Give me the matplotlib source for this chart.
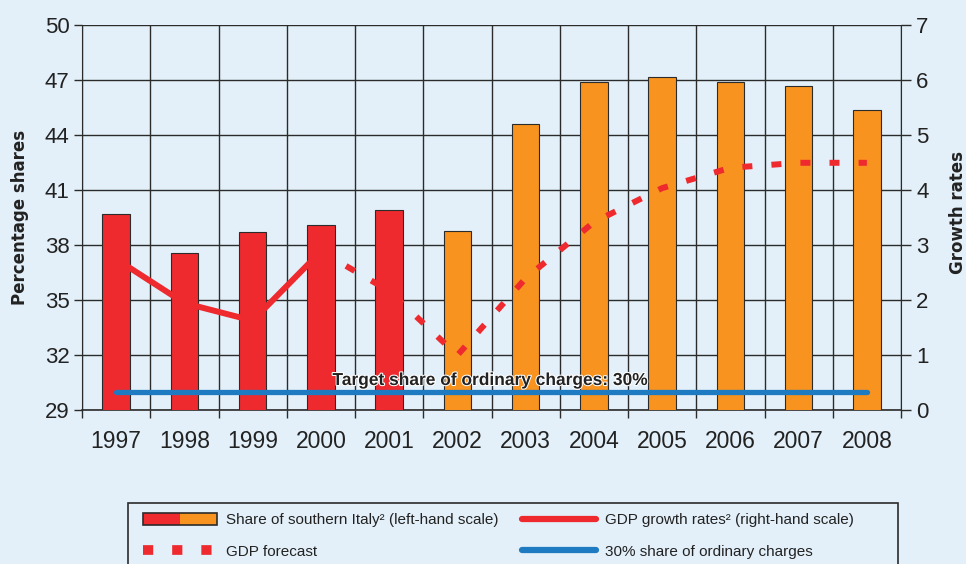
import matplotlib
matplotlib.use('Agg')
import matplotlib.pyplot as plt
import matplotlib.patheffects as pe
from matplotlib.patches import Rectangle
from matplotlib.lines import Line2D
from matplotlib.legend_handler import HandlerBase
import numpy as np

# data
years = [1997, 1998, 1999, 2000, 2001, 2002, 2003, 2004, 2005, 2006, 2007, 2008]
south_share = [39.7, 37.6, 38.7, 39.1, 39.9, 38.8, 44.6, 46.9, 47.2, 46.9, 46.7, 45.4]
last_actual = 2001  # bars up to here are red, later ones orange

gdp_years = [1997, 1998, 1999, 2000]
gdp_growth = [2.75, 1.95, 1.63, 2.89]

forecast_years = [2000, 2001, 2002, 2003, 2004, 2005, 2006, 2007, 2008]
gdp_forecast = [2.89, 2.17, 1.0, 2.4, 3.42, 4.04, 4.41, 4.5, 4.5]

target_share = 30

# colours
bg = '#e3f0f9'
red = '#ee2a2f'
orange = '#f7931e'
blue = '#1f7bc1'
dark = '#2b2b2b'

tick_font = ['Liberation Sans', 'DejaVu Sans']

fig = plt.figure(figsize=(9.66, 5.64), dpi=100, facecolor=bg)
ax = fig.add_axes([82 / 966, 1 - 410.3 / 564, (901 - 82) / 966, (410.3 - 25.3) / 564])
ax.set_facecolor(bg)
ax2 = ax.twinx()

x = np.arange(len(years))
bar_colors = [red if y <= last_actual else orange for y in years]
ax.bar(x, south_share, width=0.405, bottom=0, color=bar_colors,
       edgecolor=dark, linewidth=0.8, zorder=3)

# 30% target line on the left scale
ax.plot([x[0], x[-1]], [target_share, target_share], color=blue, lw=3.8,
        solid_capstyle='round', zorder=4)
txt = ax.text((x[0] + x[-1]) / 2 - 0.015, target_share + 0.38,
              'Target share of ordinary charges: 30%', ha='center', va='baseline',
              fontsize=12.5, fontweight='bold', family=tick_font, color='#222222',
              zorder=5)
txt.set_path_effects([pe.withStroke(linewidth=1.5, foreground='white')])

# growth rates on the right scale
gx = np.array(gdp_years) - years[0]
fx = np.array(forecast_years) - years[0]
ax2.plot(gx, gdp_growth, color=red, lw=4.3, solid_capstyle='butt')
ax2.plot(fx, gdp_forecast, color=red, lw=4.3, dashes=(1.67, 3.2))

ax.set_xlim(-0.5, len(years) - 0.5)
ax.set_ylim(29, 50)
ax.set_yticks(np.arange(29, 51, 3))
ax2.set_ylim(0, 7)
ax2.set_yticks(np.arange(0, 8, 1))

# ticks on category boundaries, labels on centres
ax.set_xticks(np.arange(-0.5, len(years), 1))
ax.set_xticklabels([])
ax.set_xticks(x, minor=True)
ax.set_xticklabels([str(y) for y in years], minor=True)
ax.tick_params(axis='x', which='major', length=6, width=1, color=dark, direction='out')
ax.tick_params(axis='x', which='minor', length=0, pad=14.5, labelsize=16.5, labelcolor='#222222')
ax.tick_params(axis='y', length=6, width=1, color=dark, pad=3, labelsize=16, labelcolor='#222222')
ax2.tick_params(axis='y', length=7, width=1, color=dark, pad=4, labelsize=16, labelcolor='#222222')
for lab in ax.get_xticklabels(minor=True) + ax.get_yticklabels() + ax2.get_yticklabels():
    lab.set_family(tick_font)

ax.grid(True, which='major', color=dark, lw=1.0)
ax.set_axisbelow(True)

for s in ['top', 'right']:
    ax.spines[s].set_visible(False)
for s in ['top', 'bottom', 'left']:
    ax2.spines[s].set_visible(False)
ax.spines['left'].set_color(dark)
ax.spines['bottom'].set_color(dark)
ax.spines['bottom'].set_linewidth(1.2)
ax2.spines['right'].set_color(dark)

fig.text(20 / 966, 1 - 217 / 564, 'Percentage shares', rotation=90, ha='center', va='center',
         fontsize=12, fontweight='bold', color='#222222')
fig.text(958 / 966, 1 - 212 / 564, 'Growth rates', rotation=90, ha='center', va='center',
         fontsize=12, fontweight='bold', color='#222222')


# legend
class SplitBarHandler(HandlerBase):
    def create_artists(self, legend, orig_handle, xdescent, ydescent, width, height, fontsize, trans):
        left = Rectangle((-xdescent, -ydescent), width / 2, height, facecolor=red,
                         edgecolor='none', transform=trans)
        right = Rectangle((-xdescent + width / 2, -ydescent), width / 2, height,
                          facecolor=orange, edgecolor='none', transform=trans)
        frame = Rectangle((-xdescent, -ydescent), width, height, facecolor='none',
                          edgecolor=dark, lw=1.2, transform=trans)
        return [left, right, frame]


box = Rectangle((128 / 966, -0.05), (898 - 128) / 966, 0.05 + 1 - 503 / 564,
                transform=fig.transFigure, facecolor=bg, edgecolor=dark, lw=1.2)
fig.patches.append(box)

bar_handle = Rectangle((0, 0), 1, 1)
fc_handle = Line2D([], [], color=red, lw=7, dashes=(1.05, 1.95))
gdp_handle = Line2D([], [], color=red, lw=4.5, solid_capstyle='round')
blue_handle = Line2D([], [], color=blue, lw=4.5, solid_capstyle='round')

leg_kw = dict(loc='upper left', frameon=False, handlelength=4.85, handleheight=0.8,
              handletextpad=0.6, labelspacing=1.15, borderpad=0, borderaxespad=0,
              prop={'family': tick_font, 'size': 11})
leg1 = fig.legend([bar_handle, fc_handle],
                  ['Share of southern Italy² (left-hand scale)', 'GDP forecast'],
                  bbox_to_anchor=(143 / 966, 1 - 513 / 564),
                  handler_map={Rectangle: SplitBarHandler()}, **leg_kw)
leg2 = fig.legend([gdp_handle, blue_handle],
                  ['GDP growth rates² (right-hand scale)', '30% share of ordinary charges'],
                  bbox_to_anchor=(522 / 966, 1 - 513 / 564), **leg_kw)
for leg in (leg1, leg2):
    for t in leg.get_texts():
        t.set_color('#222222')

fig.savefig('out.png', dpi=100, facecolor=bg)
